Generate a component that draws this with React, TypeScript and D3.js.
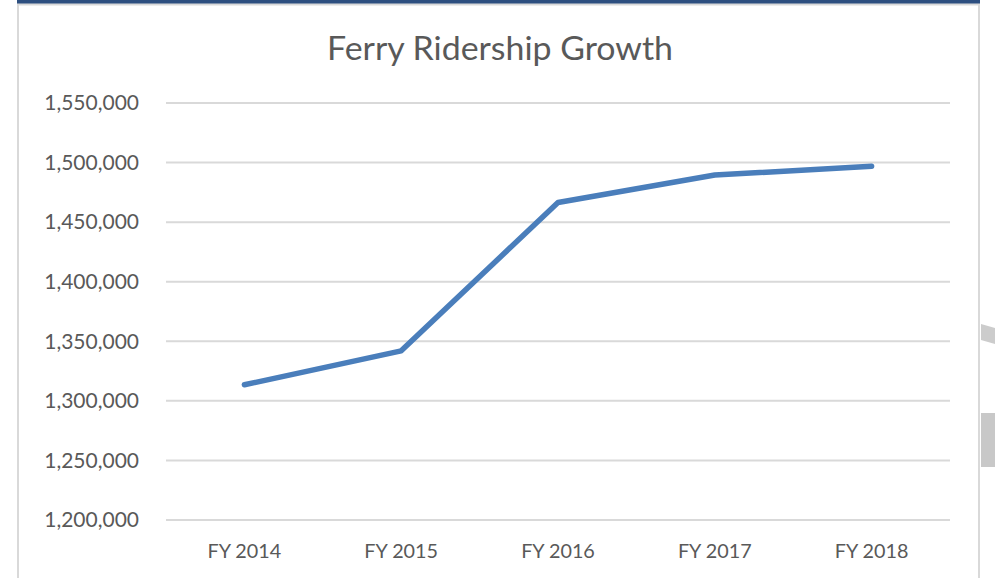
import React from "react";
import * as d3 from "d3";

const categories = ["FY 2014", "FY 2015", "FY 2016", "FY 2017", "FY 2018"];
const ridership = [1313500, 1342000, 1466500, 1489500, 1497000];
const yTicks = [1200000, 1250000, 1300000, 1350000, 1400000, 1450000, 1500000, 1550000];
const title = "Ferry Ridership Growth";

const W = 995;
const H = 578;
const FONT = "Lato, 'Open Sans', sans-serif";
const TEXT = "#595959";

export default function App() {
  const x = d3.scaleBand<string>().domain(categories).range([166, 950]);
  const y = d3.scaleLinear().domain([1200000, 1550000]).range([520, 103]);
  const fmt = d3.format(",");
  const line = d3
    .line<number>()
    .x((_, i) => (x(categories[i]) as number) + x.bandwidth() / 2)
    .y((d) => y(d));

  return (
    <svg
      width={W}
      height={H}
      style={{ position: "absolute", left: 0, top: 0, background: "#fff" }}
    >
      <rect x={17} y={0} width={963} height={4} fill="#2d4f80" />
      <rect x={18} y={4.5} width={961} height={H} fill="#fff" stroke="#d9d9d9" strokeWidth={2} />
      <polygon points="981,324 995,328 995,344 981,340" fill="#cccccc" />
      <rect x={981} y={413} width={14} height={54} fill="#c8c8c8" />
      <text
        x={500}
        y={60}
        textAnchor="middle"
        fontFamily={FONT}
        fontSize={32}
        textLength={346}
        lengthAdjust="spacingAndGlyphs"
        fill={TEXT}
      >
        {title}
      </text>
      {yTicks.map((t) => (
        <g key={t}>
          <line x1={166} x2={950} y1={y(t)} y2={y(t)} stroke="#d9d9d9" strokeWidth={2} />
          <text
            x={139}
            y={y(t)}
            dy="0.35em"
            textAnchor="end"
            fontFamily={FONT}
            fontSize={21}
            fill={TEXT}
          >
            {fmt(t)}
          </text>
        </g>
      ))}
      {categories.map((c) => (
        <text
          key={c}
          x={(x(c) as number) + x.bandwidth() / 2}
          y={558}
          textAnchor="middle"
          fontFamily={FONT}
          fontSize={19.8}
          fill={TEXT}
        >
          {c}
        </text>
      ))}
      <path
        d={line(ridership) || ""}
        fill="none"
        stroke="#4a7ebb"
        strokeWidth={5.5}
        strokeLinecap="round"
        strokeLinejoin="round"
      />
    </svg>
  );
}
